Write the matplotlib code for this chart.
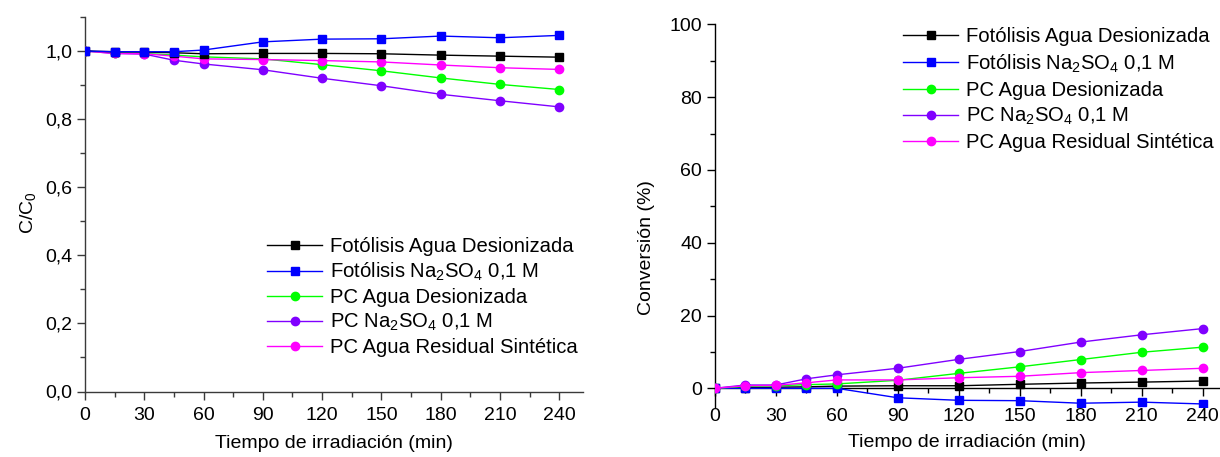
import matplotlib
matplotlib.use("Agg")
import matplotlib.pyplot as plt
from matplotlib.ticker import MultipleLocator, FuncFormatter

plt.rcParams["font.family"] = ["Liberation Sans", "DejaVu Sans"]
plt.rcParams["mathtext.fontset"] = "custom"
plt.rcParams["mathtext.rm"] = "Liberation Sans"
plt.rcParams["mathtext.it"] = "Liberation Sans:italic"
plt.rcParams["font.size"] = 13.5

# Irradiation time (min)
tiempo = [0, 15, 30, 45, 60, 90, 120, 150, 180, 210, 240]

labels = [
    "Fotólisis Agua Desionizada",
    "Fotólisis Na$_2$SO$_4$ 0,1 M",
    "PC Agua Desionizada",
    "PC Na$_2$SO$_4$ 0,1 M",
    "PC Agua Residual Sintética",
]
colors = ["#000000", "#0000FF", "#00FF00", "#8000FF", "#FF00FF"]
markers = ["s", "s", "o", "o", "o"]

# Relative concentration C/C0
cc0_fot_agua = [1.000, 0.998, 0.997, 0.995, 0.992, 0.993, 0.993, 0.992, 0.988, 0.985, 0.982]
cc0_fot_na2so4 = [1.000, 0.998, 0.998, 0.998, 1.003, 1.027, 1.035, 1.036, 1.044, 1.039, 1.046]
cc0_pc_agua = [1.000, 0.995, 0.993, 0.988, 0.983, 0.977, 0.960, 0.942, 0.921, 0.902, 0.887]
cc0_pc_na2so4 = [1.000, 0.993, 0.991, 0.973, 0.962, 0.945, 0.920, 0.898, 0.873, 0.854, 0.836]
cc0_pc_residual = [1.000, 0.993, 0.992, 0.985, 0.977, 0.975, 0.972, 0.968, 0.959, 0.951, 0.946]

# Conversion (%)
conv_fot_agua = [0.0, 0.2, 0.3, 0.4, 0.6, 0.7, 0.7, 1.1, 1.45, 1.7, 2.0]
conv_fot_na2so4 = [0.0, 0.0, 0.0, 0.0, 0.0, -2.6, -3.3, -3.4, -4.1, -3.8, -4.3]
conv_pc_agua = [0.0, 0.5, 0.7, 1.0, 1.2, 2.2, 4.1, 5.9, 7.9, 9.9, 11.3]
conv_pc_na2so4 = [0.0, 0.9, 0.9, 2.6, 3.7, 5.5, 7.95, 10.1, 12.7, 14.7, 16.4]
conv_pc_residual = [0.0, 0.7, 0.8, 1.5, 2.3, 2.3, 2.9, 3.3, 4.3, 4.9, 5.5]

cc0_series = [cc0_fot_agua, cc0_fot_na2so4, cc0_pc_agua, cc0_pc_na2so4, cc0_pc_residual]
conv_series = [conv_fot_agua, conv_fot_na2so4, conv_pc_agua, conv_pc_na2so4, conv_pc_residual]

fig = plt.figure(figsize=(12.2, 4.57), dpi=100)
ax1 = fig.add_axes([85 / 1220, (457 - 391.5) / 457, 498 / 1220, 374.5 / 457])
ax2 = fig.add_axes([714.7 / 1220, (457 - 406.5) / 457, 504.2 / 1220, 382.2 / 457])


def draw(ax, series, order):
    handles = {}
    for i in order:
        (h,) = ax.plot(tiempo, series[i], color=colors[i], marker=markers[i],
                       markersize=6, markeredgecolor=colors[i], lw=1.0,
                       label=labels[i], zorder=3 + order.index(i))
        handles[i] = h
    return [handles[i] for i in range(5)]


def style(ax, spine_color, xpad):
    for s in ["top", "right"]:
        ax.spines[s].set_visible(False)
    for s in ["left", "bottom"]:
        ax.spines[s].set_color(spine_color)
        ax.spines[s].set_linewidth(1.0)
    ax.tick_params(which="major", direction="out", length=6, width=1.0,
                   color=spine_color, labelsize=14, pad=3)
    ax.tick_params(which="minor", direction="out", length=3.5, width=1.0,
                   color=spine_color)
    ax.tick_params(axis="x", which="major", pad=xpad)
    ax.xaxis.set_major_locator(MultipleLocator(30))
    ax.xaxis.set_minor_locator(MultipleLocator(15))


legend_kw = dict(loc="upper left", frameon=False, fontsize=14.6,
                 handlelength=2.7, handletextpad=0.4, borderaxespad=0,
                 borderpad=0)

# Left panel: C/C0
h1 = draw(ax1, cc0_series, [3, 2, 4, 0, 1])
style(ax1, "#3a3a3a", 5)
ax1.set_xlim(0, 252)
ax1.set_ylim(0, 1.1)
ax1.yaxis.set_major_locator(MultipleLocator(0.2))
ax1.yaxis.set_minor_locator(MultipleLocator(0.1))
ax1.yaxis.set_major_formatter(FuncFormatter(lambda v, p: f"{v:.1f}".replace(".", ",")))
ax1.set_xlabel("Tiempo de irradiación (min)", fontsize=14, labelpad=8)
ax1.set_ylabel("C/C$_0$", fontsize=14)
ax1.yaxis.set_label_coords(-0.095, 0.477)
ax1.legend(handles=h1, bbox_to_anchor=(0.366, 0.413), labelspacing=0.24,
           **legend_kw)

# Right panel: conversion
h2 = draw(ax2, conv_series, [0, 1, 2, 3, 4])
style(ax2, "#000000", 8)
ax2.spines["bottom"].set_position(("data", 0))
ax2.set_xlim(0, 248)
ax2.set_ylim(-5, 100)
ax2.yaxis.set_major_locator(MultipleLocator(20))
ax2.yaxis.set_minor_locator(MultipleLocator(10))
ax2.set_xlabel("Tiempo de irradiación (min)", fontsize=14, labelpad=7)
ax2.set_ylabel("Conversión (%)", fontsize=14)
ax2.yaxis.set_label_coords(-0.118, 0.415)
ax2.legend(handles=h2, bbox_to_anchor=(0.374, 0.992), labelspacing=0.3,
           **legend_kw)

fig.savefig("out.png", dpi=100)
